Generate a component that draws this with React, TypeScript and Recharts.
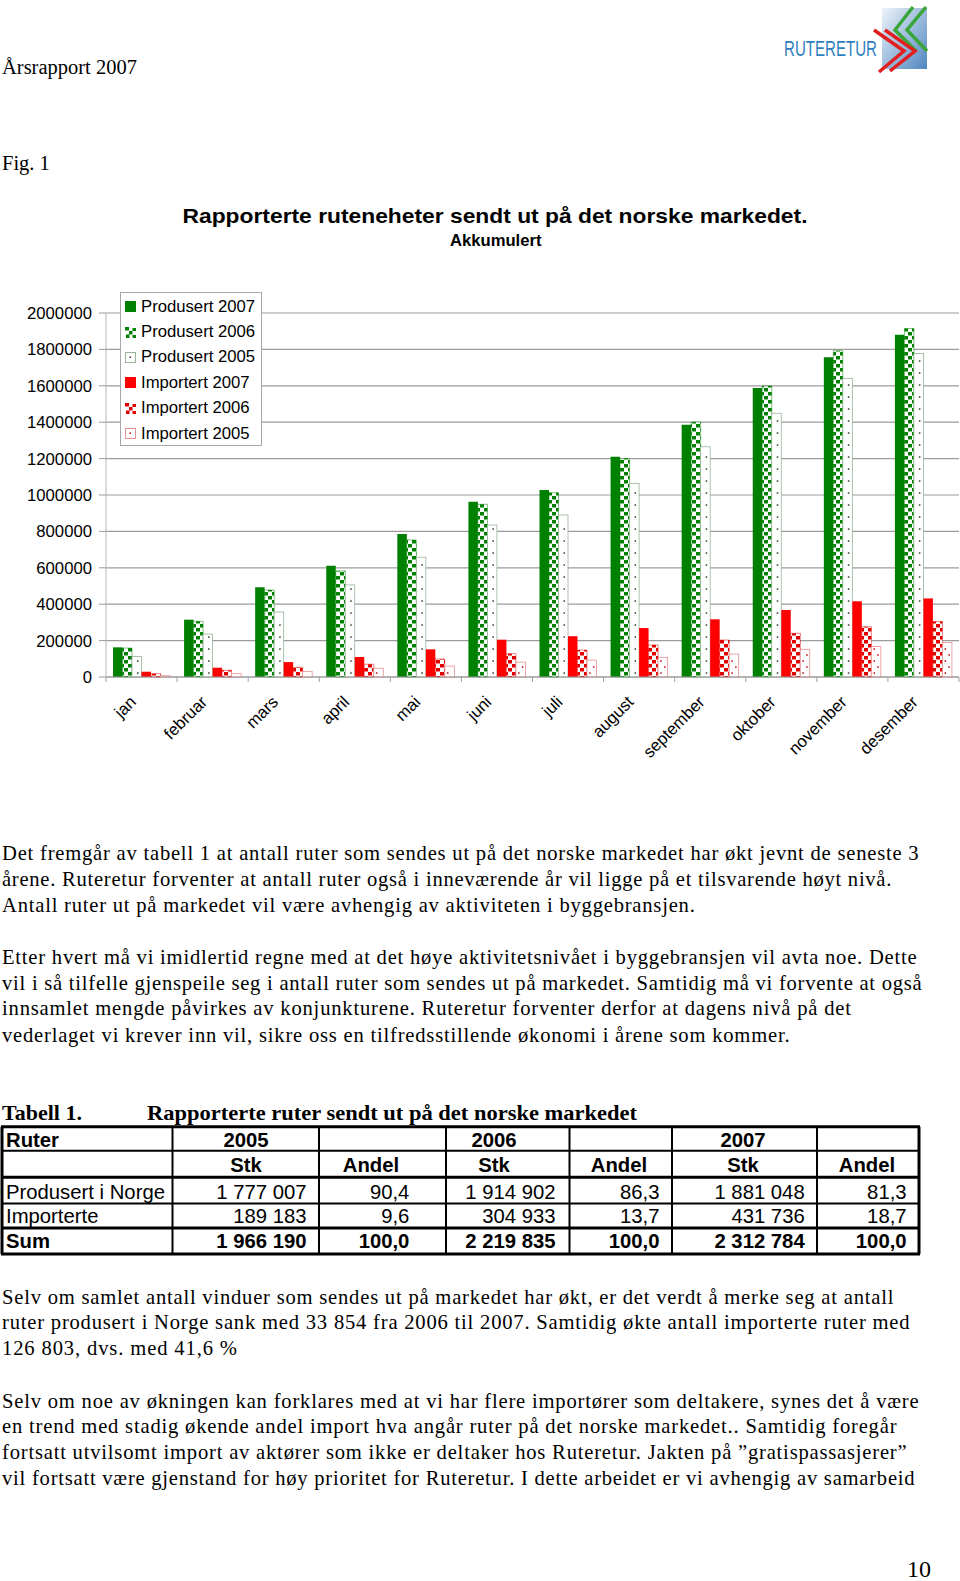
import React from 'react';
import { BarChart, Bar, XAxis, YAxis, CartesianGrid, Legend } from 'recharts';

// Akkumulerte rutenheter per måned (lest av figuren, desember = tabell 1)
const months = ['jan', 'februar', 'mars', 'april', 'mai', 'juni', 'juli', 'august', 'september', 'oktober', 'november', 'desember'];
const produsert2007 = [163000, 315000, 493000, 611000, 786000, 963000, 1027000, 1210000, 1386000, 1588000, 1757000, 1881048];
const produsert2006 = [159000, 306000, 478000, 583000, 753000, 949000, 1013000, 1200000, 1401000, 1599000, 1793000, 1914902];
const produsert2005 = [113000, 236000, 357000, 506000, 658000, 835000, 890000, 1064000, 1265000, 1449000, 1641000, 1777007];
const importert2007 = [29000, 51000, 82000, 110000, 152000, 205000, 224000, 269000, 317000, 368000, 416000, 431736];
const importert2006 = [18000, 37000, 53000, 70000, 99000, 128000, 148000, 176000, 203000, 240000, 276000, 304933];
const importert2005 = [7000, 18000, 31000, 48000, 60000, 82000, 93000, 108000, 126000, 152000, 167000, 189183];
const yTicks = [0, 200000, 400000, 600000, 800000, 1000000, 1200000, 1400000, 1600000, 1800000, 2000000];

// Tabell 1
const tableYears = ['2005', '2006', '2007'];
const tableRows = ['Produsert i Norge', 'Importerte', 'Sum'];
const stk2005 = ['1 777 007', '189 183', '1 966 190'];
const andel2005 = ['90,4', '9,6', '100,0'];
const stk2006 = ['1 914 902', '304 933', '2 219 835'];
const andel2006 = ['86,3', '13,7', '100,0'];
const stk2007 = ['1 881 048', '431 736', '2 312 784'];
const andel2007 = ['81,3', '18,7', '100,0'];

const para1 = [
  'Det fremgår av tabell 1 at antall ruter som sendes ut på det norske markedet har økt jevnt de seneste 3',
  'årene. Ruteretur forventer at antall ruter også i inneværende år vil ligge på et tilsvarende høyt nivå.',
  'Antall ruter ut på markedet vil være avhengig av aktiviteten i byggebransjen.',
];
const para2 = [
  'Etter hvert må vi imidlertid regne med at det høye aktivitetsnivået i byggebransjen vil avta noe. Dette',
  'vil i så tilfelle gjenspeile seg i antall ruter som sendes ut på markedet. Samtidig må vi forvente at også',
  'innsamlet mengde påvirkes av konjunkturene. Ruteretur forventer derfor at dagens nivå på det',
  'vederlaget vi krever inn vil, sikre oss en tilfredsstillende økonomi i årene som kommer.',
];
const para3 = [
  'Selv om samlet antall vinduer som sendes ut på markedet har økt, er det verdt å merke seg at antall',
  'ruter produsert i Norge sank med 33 854 fra 2006 til 2007. Samtidig økte antall importerte ruter med',
  '126 803, dvs. med 41,6 %',
];
const para4 = [
  'Selv om noe av økningen kan forklares med at vi har flere importører som deltakere, synes det å være',
  'en trend med stadig økende andel import hva angår ruter på det norske markedet.. Samtidig foregår',
  'fortsatt utvilsomt import av aktører som ikke er deltaker hos Ruteretur. Jakten på ”gratispassasjerer”',
  'vil fortsatt være gjenstand for høy prioritet for Ruteretur. I dette arbeidet er vi avhengig av samarbeid',
];

const SERIF = '"Liberation Serif", "Times New Roman", serif';
const SANS = '"Liberation Sans", Arial, sans-serif';
const GREEN = '#008000';
const RED = '#ff0000';

const CHART_TOP = 280;
const PLOT_LEFT = 106;
const PLOT_W = 853;
const CAT_W = PLOT_W / months.length;

const chartData = months.map((m, i) => ({
  month: m,
  p2007: produsert2007[i],
  p2006: produsert2006[i],
  p2005: produsert2005[i],
  i2007: importert2007[i],
  i2006: importert2006[i],
  i2005: importert2005[i],
}));

const T = ({ x, y, w, size = 20, bold = false, sans = false, anchor = 'start', color = '#000', squeeze = false, children }: any) => (
  <text
    x={x}
    y={y}
    fontSize={size}
    fontWeight={bold ? 700 : 400}
    fontFamily={sans ? SANS : SERIF}
    textAnchor={anchor}
    fill={color}
    textLength={w}
    lengthAdjust={w ? (squeeze ? 'spacingAndGlyphs' : 'spacing') : undefined}
  >
    {children}
  </text>
);

// hvit søyle med prikker (2005-seriene)
const dotted = (dot: string, edge: string, twoCols: boolean) => (props: any) => {
  const { x, y, width, height } = props;
  if (!height || height <= 0) return <g />;
  const dots = [];
  let k = 0;
  for (let yy = y + height - 4; yy > y + 2; yy -= twoCols ? 6 : 12) {
    const dx = twoCols ? (k % 2 ? 0.7 : 0.3) : 0.6;
    dots.push(<rect key={k} x={x + width * dx - 0.7} y={yy - 0.7} width={1.5} height={1.5} fill={dot} />);
    k++;
  }
  return (
    <g>
      <rect x={x} y={y} width={width} height={height} fill="#fff" stroke={edge} strokeWidth={0.8} />
      {dots}
    </g>
  );
};

const MonthTick = ({ x, y, payload, index }: any) => {
  const tx = x - 4.5;
  const ty = y + 26;
  return (
    <g>
      <line x1={x - CAT_W / 2} x2={x - CAT_W / 2} y1={y} y2={y + 5} stroke="#a0a0a0" />
      {index === months.length - 1 && <line x1={x + CAT_W / 2} x2={x + CAT_W / 2} y1={y} y2={y + 5} stroke="#a0a0a0" />}
      <text x={tx} y={ty} textAnchor="end" fontSize={16.7} fontFamily={SANS} fill="#000" transform={`rotate(-45 ${tx} ${ty})`}>
        {payload.value}
      </text>
    </g>
  );
};

const legendItems = [
  { name: 'Produsert 2007', kind: 'solid', color: GREEN },
  { name: 'Produsert 2006', kind: 'checker', color: GREEN },
  { name: 'Produsert 2005', kind: 'dots', color: '#333', edge: '#99b399' },
  { name: 'Importert 2007', kind: 'solid', color: RED },
  { name: 'Importert 2006', kind: 'checker', color: '#e00000' },
  { name: 'Importert 2005', kind: 'dots', color: '#c00000', edge: '#e89090' },
];

const LegendIcon = ({ item }: any) => (
  <svg width={11} height={11} style={{ display: 'block' }}>
    {item.kind === 'solid' && <rect x={0} y={0} width={11} height={11} fill={item.color} />}
    {item.kind === 'checker' && (
      <g>
        <rect x={0.5} y={0.5} width={10} height={10} fill="#fff" />
        <rect x={0} y={0} width={4} height={3.5} fill={item.color} />
        <rect x={4} y={4} width={3.5} height={3.5} fill={item.color} />
        <rect x={1} y={7.5} width={3.5} height={3.5} fill={item.color} />
        <rect x={7.5} y={1} width={3.5} height={3} fill={item.color} />
        <rect x={7.5} y={8} width={3.5} height={3} fill={item.color} />
      </g>
    )}
    {item.kind === 'dots' && (
      <g>
        <rect x={0.5} y={0.5} width={10} height={10} fill="#fff" stroke={item.edge} />
        <rect x={4.5} y={4.5} width={1.5} height={1.5} fill={item.color} />
      </g>
    )}
  </svg>
);

const LegendBox = () => (
  <div
    style={{
      width: 142,
      height: 154,
      boxSizing: 'border-box',
      border: '1px solid #a8a8a8',
      background: '#fff',
      paddingTop: 1,
      fontFamily: SANS,
      fontSize: 16.7,
      color: '#000',
    }}
  >
    {legendItems.map((it) => (
      <div key={it.name} style={{ display: 'flex', alignItems: 'center', height: 25.4, paddingLeft: 4 }}>
        <LegendIcon item={it} />
        <span style={{ marginLeft: 5, whiteSpace: 'nowrap' }}>{it.name}</span>
      </div>
    ))}
  </div>
);

const Logo = () => (
  <g>
    <defs>
      <linearGradient id="logoBlue" x1="0" y1="0" x2="1" y2="1">
        <stop offset="0%" stopColor="#eef4fa" />
        <stop offset="100%" stopColor="#4f86c0" />
      </linearGradient>
    </defs>
    <rect x={882} y={8} width={45} height={61} fill="url(#logoBlue)" />
    <polyline points="913,7 895,30 916,51" fill="none" stroke="#3aa53a" strokeWidth={3.5} />
    <polyline points="926,7 907,30 927,51" fill="none" stroke="#3aa53a" strokeWidth={3.5} />
    <polyline points="874,30 904,51 879,72" fill="none" stroke="#e02020" strokeWidth={3.5} />
    <polyline points="885,30 915,51 890,71" fill="none" stroke="#e02020" strokeWidth={3.5} />
    <text x={784} y={56} fontSize={22} fontFamily={SANS} fill="#2f7fc0" textLength={93} lengthAdjust="spacingAndGlyphs">
      RUTERETUR
    </text>
  </g>
);

const colX = [2, 172.5, 319, 446, 569.5, 672, 817, 919];
const rowY = [1126.7, 1150.7, 1177.3, 1203.5, 1228, 1254];
const thickRows = [0, 2, 4, 5];
const yearCenters = [246, 494, 743];
const andelCenters = [371, 619, 867];
const stkEnds = [306.6, 555.6, 804.7];
const andelEnds = [409.4, 659.5, 906.6];
const bodyBase = [1199, 1223.3, 1248.3];

const Table = () => {
  const stk = [stk2005, stk2006, stk2007];
  const andel = [andel2005, andel2006, andel2007];
  return (
    <g>
      <T x={2} y={1120} size={22} bold>Tabell 1.</T>
      <T x={147} y={1120} size={22} bold w={490} squeeze>Rapporterte ruter sendt ut på det norske markedet</T>
      {rowY.map((ry, i) => (
        <line key={'h' + i} x1={colX[0] - 1} x2={colX[7] + 1} y1={ry} y2={ry} stroke="#000" strokeWidth={thickRows.includes(i) ? 3 : 2} />
      ))}
      {colX.map((cx, i) => (
        <line key={'v' + i} x1={cx} x2={cx} y1={rowY[0]} y2={rowY[5]} stroke="#000" strokeWidth={i === 0 || i === 7 ? 3 : 2} />
      ))}
      <T x={6} y={1146.7} size={20.3} sans bold>Ruter</T>
      {tableYears.map((yr, j) => (
        <g key={yr}>
          <T x={yearCenters[j]} y={1146.7} size={20.3} sans bold anchor="middle">{yr}</T>
          <T x={yearCenters[j]} y={1171.7} size={20.3} sans bold anchor="middle">Stk</T>
          <T x={andelCenters[j]} y={1171.7} size={20.3} sans bold anchor="middle">Andel</T>
        </g>
      ))}
      {tableRows.map((r, i) => (
        <g key={r}>
          <T x={6} y={bodyBase[i]} size={20.3} sans bold={i === 2}>{r}</T>
          {tableYears.map((yr, j) => (
            <g key={yr}>
              <T x={stkEnds[j]} y={bodyBase[i]} size={20.3} sans bold={i === 2} anchor="end">{stk[j][i]}</T>
              <T x={andelEnds[j]} y={bodyBase[i]} size={20.3} sans bold={i === 2} anchor="end">{andel[j][i]}</T>
            </g>
          ))}
        </g>
      ))}
    </g>
  );
};

const p1Base = [860, 886.3, 911.5];
const p1W = [916.6, 889.4, 692.8];
const p2Base = [964, 990.2, 1015.4, 1041.6];
const p2W = [914.6, 919.7, 849, 787.6];
const p3Base = [1303.8, 1329, 1355.2];
const p3W = [891.4, 907.6, 235];
const p4Base = [1407.7, 1432.9, 1459.1, 1485.3];
const p4W = [916.6, 894.5, 904.6, 912.6];

const Paragraph = ({ lines, base, widths }: any) => (
  <g>
    {lines.map((l: string, i: number) => (
      <T key={i} x={2} y={base[i]} w={widths[i]} size={20.6}>{l}</T>
    ))}
  </g>
);

export default function App() {
  return (
    <div style={{ position: 'absolute', left: 0, top: 0, width: 960, height: 1581, background: '#fff', overflow: 'hidden' }}>
      <svg width={960} height={1581} style={{ position: 'absolute', left: 0, top: 0 }}>
        <T x={2} y={73.5} size={20.5}>Årsrapport 2007</T>
        <Logo />
        <T x={2} y={170} size={20.5}>Fig. 1</T>
        <T x={182.5} y={222.5} size={21} bold sans w={625} squeeze>Rapporterte ruteneheter sendt ut på det norske markedet.</T>
        <T x={450} y={246} size={17} bold sans w={91.5} squeeze>Akkumulert</T>
        <Paragraph lines={para1} base={p1Base} widths={p1W} />
        <Paragraph lines={para2} base={p2Base} widths={p2W} />
        <Table />
        <Paragraph lines={para3} base={p3Base} widths={p3W} />
        <Paragraph lines={para4} base={p4Base} widths={p4W} />
        <T x={907} y={1577} size={24}>10</T>
      </svg>

      <div style={{ position: 'absolute', left: 0, top: CHART_TOP }}>
        <BarChart
          width={960}
          height={500}
          data={chartData}
          margin={{ top: 33, right: 960 - PLOT_LEFT - PLOT_W, bottom: 0, left: 0 }}
          barGap={0}
          barSize={9.5}
        >
          <defs>
            <pattern id="checkGreen" width={8} height={8} patternUnits="userSpaceOnUse">
              <rect width={8} height={8} fill="#fff" />
              <rect x={0} y={0} width={4} height={3.5} fill={GREEN} />
              <rect x={4} y={4} width={4} height={3.5} fill={GREEN} />
            </pattern>
            <pattern id="checkRed" width={8} height={8} patternUnits="userSpaceOnUse">
              <rect width={8} height={8} fill="#fff" />
              <rect x={0} y={0} width={4} height={3.5} fill="#e00000" />
              <rect x={4} y={4} width={4} height={3.5} fill="#e00000" />
            </pattern>
          </defs>
          <CartesianGrid vertical={false} stroke="#9b9b9b" strokeWidth={1.2} />
          <XAxis
            dataKey="month"
            height={103}
            interval={0}
            tickSize={0}
            tickMargin={0}
            tickLine={false}
            axisLine={{ stroke: '#9b9b9b' }}
            tick={<MonthTick />}
          />
          <YAxis
            width={PLOT_LEFT}
            domain={[0, 2000000]}
            ticks={yTicks}
            interval={0}
            tickSize={7}
            tickMargin={7}
            axisLine={{ stroke: '#b8b8b8' }}
            tickLine={{ stroke: '#9b9b9b' }}
            tick={{ fill: '#000', fontSize: 16.7, fontFamily: SANS }}
          />
          <Legend
            layout="vertical"
            align="center"
            verticalAlign="middle"
            wrapperStyle={{ left: 120, top: 12, width: 142, height: 154 }}
            content={() => <LegendBox />}
          />
          <Bar dataKey="p2007" name="Produsert 2007" fill={GREEN} isAnimationActive={false} />
          <Bar dataKey="p2006" name="Produsert 2006" fill="url(#checkGreen)" stroke={GREEN} strokeWidth={0.5} isAnimationActive={false} />
          <Bar dataKey="p2005" name="Produsert 2005" fill="#fff" shape={dotted('#2a3a2a', '#99b399', false)} isAnimationActive={false} />
          <Bar dataKey="i2007" name="Importert 2007" fill={RED} isAnimationActive={false} />
          <Bar dataKey="i2006" name="Importert 2006" fill="url(#checkRed)" stroke="#e00000" strokeWidth={0.5} isAnimationActive={false} />
          <Bar dataKey="i2005" name="Importert 2005" fill="#fff" shape={dotted('#c00000', '#e89090', true)} isAnimationActive={false} />
        </BarChart>
      </div>
    </div>
  );
}
